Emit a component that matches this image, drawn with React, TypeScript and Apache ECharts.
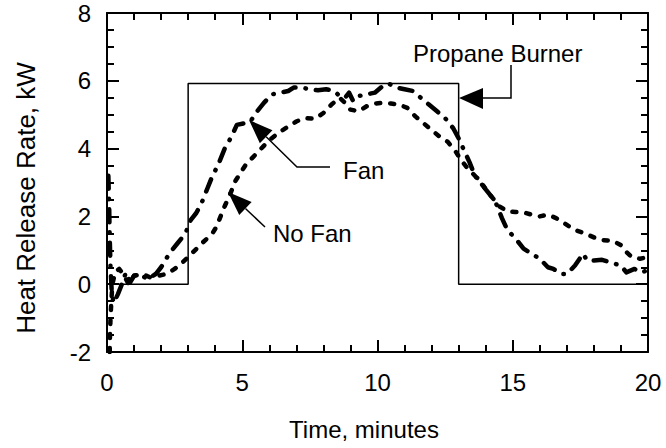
import React, { useEffect, useRef } from "react";
import * as echarts from "echarts";

const xTicks = [0, 5, 10, 15, 20];
const yTicks = [-2, 0, 2, 4, 6, 8];

const burnerX = [0.1, 3, 3, 13, 13, 20];
const burnerY = [0, 0, 5.92, 5.92, 0, 0];

const fanX = [0.05, 0.08, 0.1, 0.13, 0.18, 0.25, 0.4, 0.55, 0.7, 0.85, 1.0, 1.2, 1.5, 1.8, 2.0, 2.3, 2.6, 2.9, 3.1, 3.3, 3.5, 3.7, 3.9, 4.1, 4.35, 4.6, 4.8, 5.1, 5.3, 5.55, 5.8, 6.1, 6.4, 6.7, 6.9, 7.2, 7.5, 7.8, 8.1, 8.4, 8.6, 8.8, 8.95, 9.1, 9.3, 9.6, 9.9, 10.2, 10.4, 10.7, 11.0, 11.3, 11.6, 11.9, 12.2, 12.5, 12.8, 13.0, 13.2, 13.4, 13.6, 13.8, 14.0, 14.2, 14.4, 14.6, 14.8, 15.1, 15.4, 15.7, 16.0, 16.3, 16.5, 16.8, 17.0, 17.3, 17.6, 17.75, 18.0, 18.3, 18.7, 19.0, 19.2, 19.5, 19.7, 20];
const fanY = [3.2, 2.3, 1.4, 0.5, -0.3, -0.55, -0.3, 0.0, 0.35, 0.05, 0.25, 0.3, 0.15, 0.3, 0.5, 0.9, 1.2, 1.5, 1.9, 2.1, 2.4, 2.8, 3.2, 3.5, 4.0, 4.35, 4.7, 4.75, 4.8, 5.1, 5.35, 5.6, 5.65, 5.7, 5.8, 5.8, 5.75, 5.72, 5.75, 5.7, 5.55, 5.5, 5.65, 5.4, 5.55, 5.6, 5.65, 5.85, 5.92, 5.8, 5.75, 5.7, 5.5, 5.3, 5.1, 4.9, 4.6, 4.3, 3.95, 3.6, 3.2, 3.05, 2.8, 2.6, 2.35, 1.95, 1.6, 1.35, 1.05, 0.9, 0.75, 0.5, 0.45, 0.3, 0.3, 0.55, 0.9, 0.7, 0.7, 0.72, 0.62, 0.55, 0.35, 0.45, 0.35, 0.4];

const noFanX = [0.1, 0.11, 0.13, 0.16, 0.2, 0.3, 0.45, 0.6, 0.8, 1.0, 1.3, 1.6, 1.9, 2.2, 2.5, 2.8, 3.0, 3.25, 3.5, 3.7, 3.9, 4.05, 4.2, 4.35, 4.55, 4.75, 4.95, 5.15, 5.4, 5.7, 6.0, 6.4, 6.7, 7.0, 7.3, 7.7, 8.0, 8.3, 8.6, 8.8, 9.0, 9.3, 9.6, 9.9, 10.2, 10.5, 10.8, 11.1, 11.4, 11.7, 12.0, 12.3, 12.6, 12.9, 13.1, 13.3, 13.6, 13.9, 14.2, 14.5, 14.8, 15.1, 15.4, 15.7, 16.0, 16.3, 16.6, 17.0, 17.3, 17.6, 18.0, 18.3, 18.7, 19.0, 19.2, 19.4, 19.7, 20];
const noFanY = [-2.0, -1.5, -1.0, -0.5, 0.0, 0.35, 0.45, 0.3, 0.0, 0.25, 0.3, 0.2, 0.25, 0.3, 0.45, 0.65, 0.8, 1.0, 1.2, 1.35, 1.5, 1.7, 2.0, 2.3, 2.65, 3.05, 3.3, 3.55, 3.75, 4.0, 4.25, 4.5, 4.65, 4.8, 4.9, 4.88, 5.05, 5.3, 5.5, 5.35, 5.15, 5.1, 5.25, 5.33, 5.35, 5.33, 5.3, 5.2, 4.95, 4.75, 4.55, 4.35, 4.2, 3.9, 3.65, 3.45, 3.2, 2.9, 2.6, 2.3, 2.15, 2.13, 2.12, 2.05, 2.0, 2.05, 1.95, 1.75, 1.6, 1.52, 1.38, 1.3, 1.28, 1.15, 0.95, 0.8, 0.75, 0.8];

const FONT = "'Liberation Sans', Arial, Helvetica, sans-serif";

function zip(xs: number[], ys: number[]) {
  return xs.map((x, i) => [x, ys[i]]);
}

function arrowHead(tip: number[], toward: number[], len: number, half: number) {
  const dx = toward[0] - tip[0];
  const dy = toward[1] - tip[1];
  const d = Math.hypot(dx, dy);
  const ux = dx / d, uy = dy / d;
  const bx = tip[0] + ux * len, by = tip[1] + uy * len;
  return {
    pts: [tip, [bx - uy * half, by + ux * half], [bx + uy * half, by - ux * half]],
    base: [bx, by],
  };
}

export default function App() {
  const ref = useRef<HTMLDivElement>(null);
  useEffect(() => {
    if (!ref.current) return;
    const chart = echarts.init(ref.current, undefined, { renderer: "svg" });
    const axisCommon = {
      axisLine: { show: true, onZero: false, lineStyle: { color: "#000", width: 2 } },
      axisTick: { show: true, inside: true, length: 12, lineStyle: { color: "#000", width: 2 } },
      minorTick: { show: true, length: 7, lineStyle: { color: "#000", width: 2 } },
      splitLine: { show: false },
    };
    const fanHead = arrowHead([249, 120], [297, 167], 24, 9);
    const noFanHead = arrowHead([228, 192], [265, 227], 24, 9);
    const lineStyle = { stroke: "#000", lineWidth: 1.5 };
    chart.setOption({
      animation: false,
      backgroundColor: "#fff",
      grid: { left: 107, top: 13, right: 18, bottom: 96, containLabel: false },
      xAxis: [
        {
          type: "value", min: 0, max: 20, interval: 5, position: "bottom",
          ...axisCommon,
          minorTick: { ...axisCommon.minorTick, splitNumber: 5 },
          axisLabel: {
            show: true, margin: 18, color: "#000", fontSize: 24, fontFamily: FONT,
            formatter: (v: number) => (xTicks.includes(v) ? String(v) : ""),
          },
        },
        {
          type: "value", min: 0, max: 20, interval: 5, position: "top",
          ...axisCommon,
          minorTick: { ...axisCommon.minorTick, splitNumber: 5 },
          axisLabel: { show: false },
        },
      ],
      yAxis: [
        {
          type: "value", min: -2, max: 8, interval: 2, position: "left",
          ...axisCommon,
          minorTick: { ...axisCommon.minorTick, splitNumber: 4 },
          axisLabel: {
            show: true, margin: 16, color: "#000", fontSize: 24, fontFamily: FONT,
            formatter: (v: number) => (yTicks.includes(v) ? String(v) : ""),
          },
        },
        {
          type: "value", min: -2, max: 8, interval: 2, position: "right",
          ...axisCommon,
          minorTick: { ...axisCommon.minorTick, splitNumber: 4 },
          axisLabel: { show: false },
        },
      ],
      series: [
        {
          name: "Propane Burner", type: "line", data: zip(burnerX, burnerY),
          symbol: "none", lineStyle: { color: "#000", width: 1.5 }, z: 2,
        },
        {
          name: "No Fan", type: "line", data: zip(noFanX, noFanY), smooth: false,
          symbol: "none",
          lineStyle: { color: "#000", width: 4.5, type: [4, 10], cap: "round", join: "round" }, z: 3,
        },
        {
          name: "Fan", type: "line", data: zip(fanX, fanY), smooth: false,
          symbol: "none",
          lineStyle: { color: "#000", width: 4.5, type: [13, 10, 0.5, 10], cap: "round", join: "round" }, z: 4,
        },
      ],
      graphic: [
        {
          type: "text", x: 364, y: 429, z: 100,
          style: { text: "Time, minutes", fontSize: 24, fontFamily: FONT, fill: "#000", align: "center", verticalAlign: "middle" },
        },
        {
          type: "text", x: 26, y: 198, rotation: Math.PI / 2, z: 100,
          style: { text: "Heat Release Rate, kW", fontSize: 26, fontFamily: FONT, fill: "#000", align: "center", verticalAlign: "middle" },
        },
        {
          type: "text", x: 413, y: 53, z: 100,
          style: { text: "Propane Burner", fontSize: 24, fontFamily: FONT, fill: "#000", align: "left", verticalAlign: "middle" },
        },
        { type: "polyline", z: 100, shape: { points: [[481, 98], [511, 98], [511, 65]] }, style: lineStyle },
        { type: "polygon", z: 100, shape: { points: [[459, 98], [483, 88], [483, 109]] }, style: { fill: "#000" } },
        {
          type: "text", x: 343, y: 170, z: 100,
          style: { text: "Fan", fontSize: 24, fontFamily: FONT, fill: "#000", align: "left", verticalAlign: "middle" },
        },
        { type: "polyline", z: 100, shape: { points: [fanHead.base, [297, 167], [330, 167]] }, style: lineStyle },
        { type: "polygon", z: 100, shape: { points: fanHead.pts }, style: { fill: "#000" } },
        {
          type: "text", x: 273, y: 233, z: 100,
          style: { text: "No Fan", fontSize: 24, fontFamily: FONT, fill: "#000", align: "left", verticalAlign: "middle" },
        },
        { type: "polyline", z: 100, shape: { points: [noFanHead.base, [265, 227]] }, style: lineStyle },
        { type: "polygon", z: 100, shape: { points: noFanHead.pts }, style: { fill: "#000" } },
      ],
    });
    return () => chart.dispose();
  }, []);
  return (
    <div
      ref={ref}
      style={{ position: "fixed", left: 0, top: 0, width: 666, height: 448, background: "#fff" }}
    />
  );
}
